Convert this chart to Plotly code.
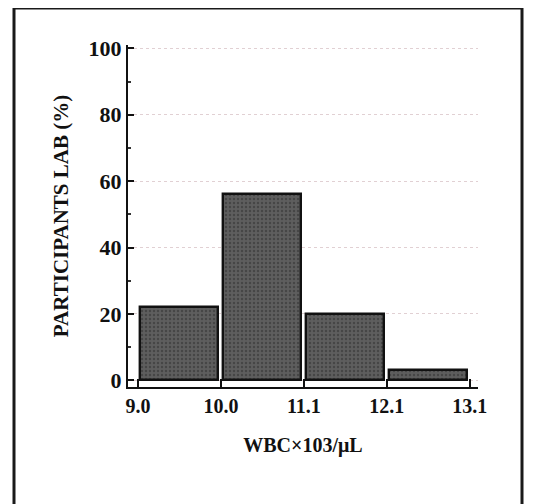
import plotly.graph_objects as go

bin_edges = ["9.0", "10.0", "11.1", "12.1", "13.1"]
bin_centers = [0.5, 1.5, 2.5, 3.5]
participants_pct = [22, 56, 20, 3]
y_ticks = [0, 20, 40, 60, 80, 100]

L, T, PW, PH = 120, 37, 350, 342

fig = go.Figure()
fig.add_trace(go.Bar(
    x=bin_centers, y=participants_pct, width=0.94,
    marker=dict(color="#505050", line=dict(color="#111111", width=2.4),
                pattern=dict(shape=".", fgcolor="#2e2e2e", bgcolor="#5e5e5e", size=4, solidity=0.3)),
    showlegend=False,
))

fig.update_layout(
    width=533, height=504,
    margin=dict(l=L, r=533 - L - PW, t=T, b=504 - T - PH, autoexpand=False),
    paper_bgcolor="white", plot_bgcolor="white",
    font=dict(family="Liberation Serif", color="#111111"),
    bargap=0,
)
fig.update_xaxes(
    range=[-0.12, 4.1], tickmode="array",
    tickvals=list(range(len(bin_edges))), ticktext=[f"<b>{t}</b>" for t in bin_edges],
    ticks="inside", ticklen=8, tickwidth=2, tickcolor="#111",
    showline=True, linecolor="#111", linewidth=2.2,
    showgrid=False, zeroline=False,
    tickfont=dict(size=20, family="Liberation Serif", color="#111"),
    title=dict(text="<b>WBC×103/μL</b>", font=dict(size=20, family="Liberation Serif"), standoff=22),
)
fig.update_yaxes(
    range=[-2, 101], tickmode="array", tickvals=y_ticks,
    ticktext=[f"<b>{v}</b>" for v in y_ticks],
    ticks="inside", ticklen=6, tickwidth=2, tickcolor="#111",
    minor=dict(tickvals=[10, 30, 50, 70, 90], ticks="inside", ticklen=3, tickwidth=1.5, tickcolor="#333", showgrid=False),
    showline=True, linecolor="#111", linewidth=2.2,
    showgrid=True, gridcolor="rgba(170,120,130,0.35)", griddash="dot", gridwidth=1.2,
    zeroline=False,
    tickfont=dict(size=22, family="Liberation Serif", color="#111"),
    title=dict(text="<b>PARTICIPANTS LAB (%)</b>", font=dict(size=21, family="Liberation Serif"), standoff=14),
)

# outer frame of the figure (figure pixel coords -> paper coords)
def px(x):
    return (x - L) / PW

def py(y):
    return (T + PH - y) / PH

fig.add_shape(type="rect", xref="paper", yref="paper",
              x0=px(6), x1=px(514), y0=py(520), y1=py(0),
              line=dict(color="#1a1a1a", width=3), fillcolor="rgba(0,0,0,0)", layer="below")

fig.write_html("out.html")
